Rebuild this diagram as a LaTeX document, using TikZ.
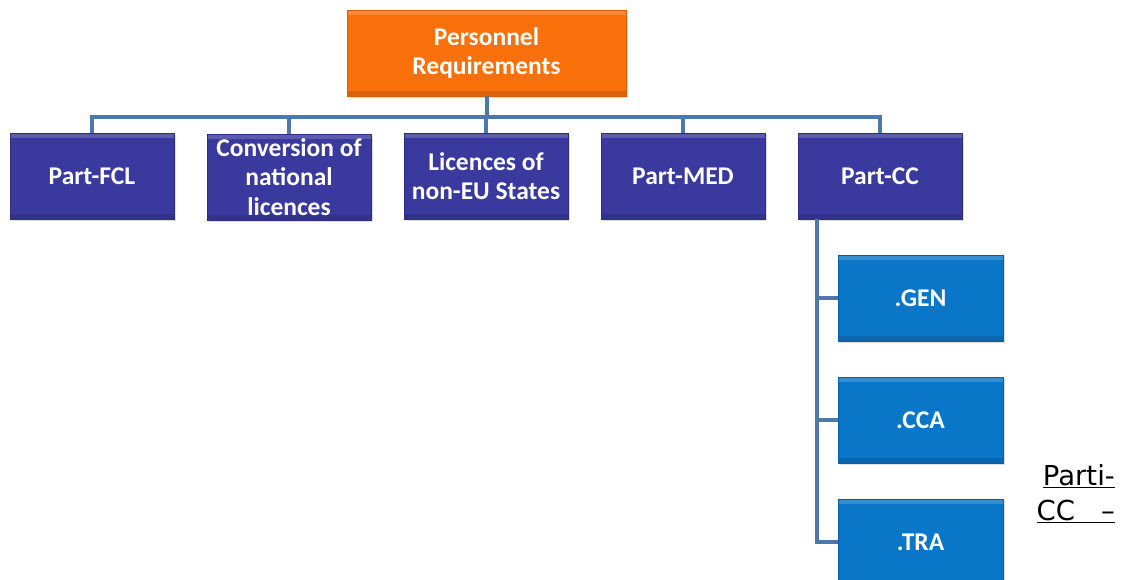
\documentclass[tikz,border=0pt]{standalone}
\usepackage{fontspec}
\setmainfont{Carlito}
\newfontfamily\dvfont{DejaVu Sans}
\usetikzlibrary{shadows}
\definecolor{orangebox}{RGB}{250,112,10}
\definecolor{darkbox}{RGB}{57,57,158}
\definecolor{lightbox}{RGB}{10,118,200}
\definecolor{connc}{RGB}{79,120,170}
\tikzset{
  boxbase/.style={inner sep=0pt, align=center, text=white,
    font=\bfseries\fontsize{25.5}{29.5}\selectfont,
    drop shadow={shadow xshift=2pt, shadow yshift=-2pt, opacity=0.25},
    path picture={
      \fill[white, opacity=0.18] (path picture bounding box.north west) rectangle ([yshift=-5pt]path picture bounding box.north east);
      \fill[black, opacity=0.12] (path picture bounding box.south west) rectangle ([yshift=5pt]path picture bounding box.south east);
    }},
  topbox/.style={boxbase, fill=orangebox, draw=orangebox!85!black, line width=0.6pt,
    minimum width=279pt, minimum height=86pt},
  midbox/.style={boxbase, fill=darkbox, draw=darkbox!80!black, line width=0.6pt,
    minimum width=164pt, minimum height=86pt},
  subbox/.style={boxbase, fill=lightbox, draw=lightbox!80!black, line width=0.6pt,
    minimum width=165pt, minimum height=86pt},
  conn/.style={draw=connc, line width=4pt},
  notetext/.style={inner sep=0pt, font=\dvfont\fontsize{27.5}{33}\selectfont, text=black}
}
\begin{document}
\begin{tikzpicture}[x=1pt,y=-1pt]
\clip (0,0) rectangle (1124,580);
\fill[white] (0,0) rectangle (1124,580);
\node[topbox] (top) at (486.5,53) {Personnel\\Requirements};
\node[midbox] (fcl) at (92,176) {Part-FCL};
\node[midbox] (conv) at (289,177) {Conversion of\\national\\licences};
\node[midbox] (lic) at (486,176) {Licences of\\non-EU States};
\node[midbox] (med) at (683,176) {Part-MED};
\node[midbox] (cc) at (880,176) {Part-CC};
\node[subbox] (gen) at (920.5,298) {.GEN};
\node[subbox] (cca) at (920.5,420) {.CCA};
\node[subbox] (tra) at (920.5,542) {.TRA};
\foreach \n in {fcl,conv,lic,med,cc}
  \draw[conn] (top.south) -- ++(0,21) -| (\n.north);
\coordinate (spine) at ([xshift=19pt]cc.south west);
\draw[conn] (spine) |- (gen.west);
\draw[conn] (spine) |- (cca.west);
\draw[conn] (spine) |- (tra.west);
\node[notetext, anchor=base east] (n1) at (1115,485) {\underline{Parti-}};
\node[notetext, anchor=base east] (n2) at (1115,520) {\underline{CC\hspace{26pt}–}};
\end{tikzpicture}
\end{document}
